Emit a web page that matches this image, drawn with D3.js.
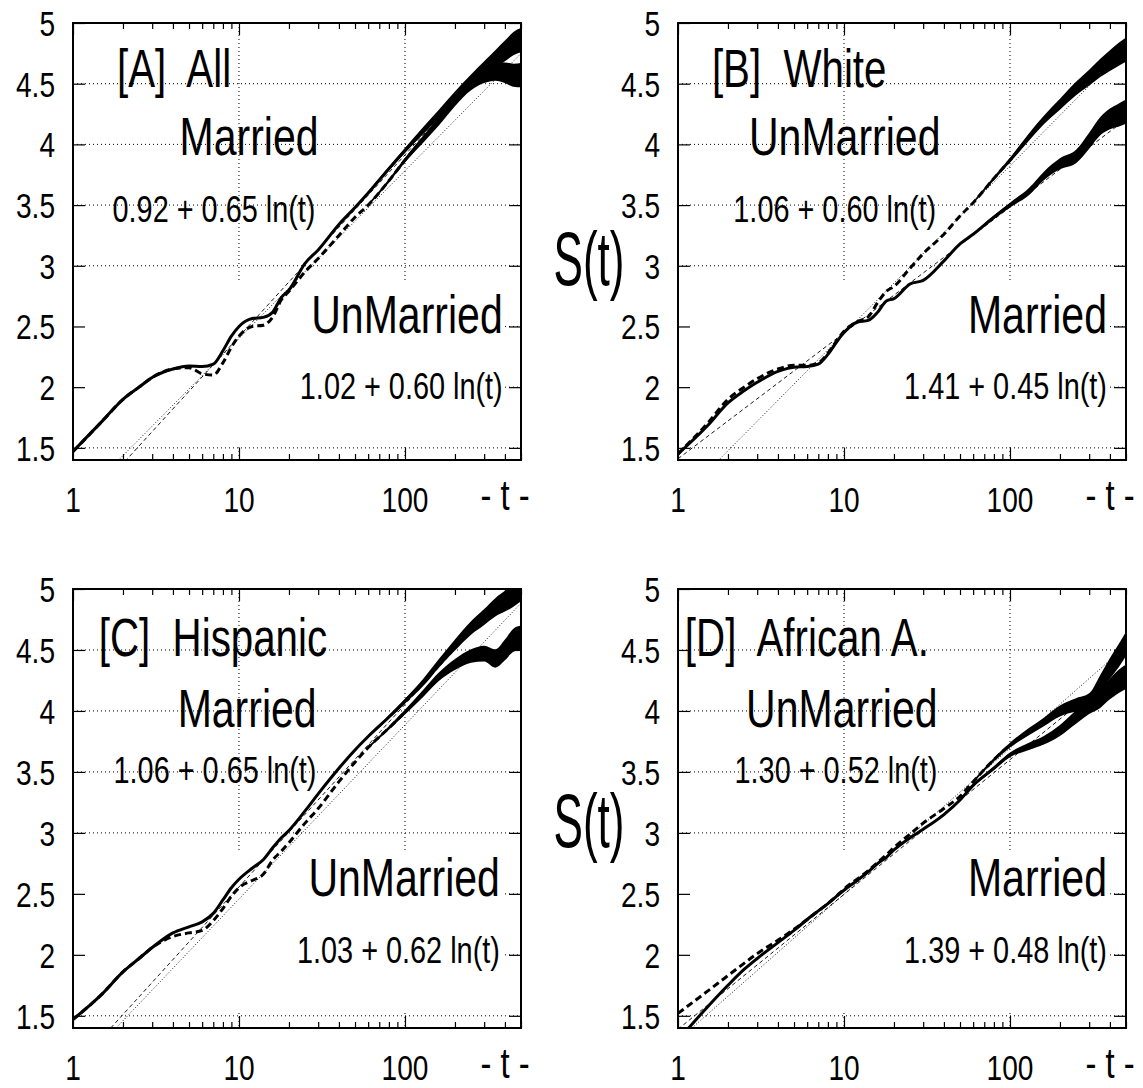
<!DOCTYPE html>
<html>
<head>
<meta charset="utf-8">
<script src="https://cdn.jsdelivr.net/npm/d3@7"></script>
<style>
body{margin:0;background:#fff}
text{font-family:"Liberation Sans",Arial,Helvetica,sans-serif;fill:#000;white-space:pre}
</style>
</head>
<body>
<svg id="chart"></svg>
<script>
// sample times (same grid for every curve)
var T=[1,1.5,2,2.5,3,4,5,6,7,8,9,10,12,14,16,18,20,25,30,40,50,60,80,100,130,160,200,250,300,350,400,450,500]
// half width of the noisy band
var noise=[0,0,0,0,0,0,0,0,0,0,0,0,0,0,0,0,0,0,0,0,0,0.01,0.015,0.02,0.03,0.035,0.045,0.055,0.065,0.075,0.085,0.095,0.1]

var marriedA=[1.47,1.72,1.90,2.00,2.08,2.15,2.175,2.17,2.19,2.30,2.42,2.50,2.565,2.575,2.62,2.74,2.80,3.02,3.13,3.34,3.48,3.60,3.80,3.95,4.12,4.25,4.39,4.52,4.62,4.70,4.77,4.83,4.86]
var unmarriedA=[1.47,1.72,1.90,2.00,2.08,2.15,2.16,2.11,2.10,2.20,2.33,2.42,2.50,2.51,2.58,2.72,2.79,2.95,3.06,3.25,3.40,3.50,3.70,3.87,4.05,4.19,4.36,4.50,4.57,4.60,4.59,4.57,4.57]
var marriedB=[1.45,1.68,1.87,1.97,2.04,2.13,2.165,2.17,2.19,2.27,2.37,2.45,2.535,2.55,2.62,2.71,2.73,2.85,2.88,3.04,3.18,3.26,3.40,3.50,3.61,3.74,3.84,3.90,4.03,4.15,4.21,4.24,4.27]
var unmarriedB=[1.45,1.70,1.90,2.00,2.07,2.15,2.18,2.18,2.20,2.28,2.38,2.46,2.54,2.58,2.70,2.79,2.83,2.98,3.10,3.26,3.41,3.52,3.72,3.87,4.06,4.20,4.33,4.46,4.55,4.63,4.69,4.74,4.78]
var marriedC=[1.47,1.68,1.86,1.97,2.06,2.18,2.23,2.27,2.34,2.45,2.55,2.62,2.71,2.78,2.88,2.96,3.02,3.18,3.32,3.53,3.68,3.79,3.95,4.08,4.24,4.39,4.54,4.68,4.77,4.85,4.90,4.95,5.00]
var unmarriedC=[1.47,1.68,1.86,1.97,2.06,2.15,2.18,2.20,2.28,2.38,2.48,2.55,2.61,2.66,2.78,2.85,2.92,3.08,3.20,3.42,3.58,3.70,3.86,3.99,4.15,4.28,4.38,4.45,4.47,4.43,4.50,4.58,4.60]
var marriedD=[1.30,1.57,1.75,1.88,1.97,2.10,2.20,2.29,2.36,2.42,2.48,2.53,2.61,2.68,2.75,2.80,2.86,2.96,3.03,3.15,3.27,3.39,3.53,3.64,3.71,3.76,3.84,3.95,4.04,4.10,4.18,4.24,4.28]
var unmarriedD=[1.52,1.70,1.83,1.93,2.01,2.12,2.21,2.29,2.36,2.42,2.48,2.54,2.62,2.69,2.76,2.82,2.88,2.99,3.08,3.20,3.30,3.42,3.60,3.72,3.83,3.91,4.00,4.05,4.08,4.22,4.35,4.45,4.55]

// fits S = a + b ln(t)
var fitMarried={A:[0.92,0.65],B:[1.41,0.45],C:[1.06,0.65],D:[1.39,0.48]}
var fitUnmarried={A:[1.02,0.60],B:[1.06,0.60],C:[1.03,0.62],D:[1.30,0.52]}

var xTicks=[1,10,100]
var xMinor=[2,3,4,5,6,7,8,9,20,30,40,50,60,70,80,90,200,300,400,500]
var yTicks=[1.5,2,2.5,3,3.5,4,4.5,5]

var W=1143,H=1088
var svg=d3.select("#chart").attr("width",W).attr("height",H)

var panels=[
  {id:"A",title:"[A]  All",married:marriedA,unmarried:unmarriedA,top:"married",left:73,right:521,y0:23,y1:460,ylab:null,
   pos:{title:[1.84,4.47],name1:[11.5,3.91],eq1:[7.07,3.36],name2:[388,2.45],eq2:[388,1.90]}},
  {id:"B",title:"[B]  White",married:marriedB,unmarried:unmarriedB,top:"unmarried",left:678,right:1126,y0:23,y1:460,ylab:19,
   pos:{title:[1.6,4.47],name1:[10.1,3.91],eq1:[8.8,3.36],name2:[384,2.45],eq2:[384,1.90]}},
  {id:"C",title:"[C]  Hispanic",married:marriedC,unmarried:unmarriedC,top:"married",left:73,right:521,y0:589,y1:1028,ylab:null,
   pos:{title:[1.43,4.45],name1:[11.2,3.87],eq1:[7.17,3.41],name2:[373,2.48],eq2:[373,1.93]}},
  {id:"D",title:"[D]  African A.",married:marriedD,unmarried:unmarriedD,top:"unmarried",left:678,right:1126,y0:589,y1:1028,ylab:14,
   pos:{title:[1.1,4.45],name1:[9.7,3.87],eq1:[8.95,3.41],name2:[384,2.48],eq2:[384,1.93]}}
]

function ctext(g,str,x,y,size,anchor,sx){
  return g.append("text").text(str)
    .attr("transform","translate("+x+","+y+") scale("+(sx||0.78)+",1)")
    .attr("text-anchor",anchor||"start")
    .attr("xml:space","preserve")
    .style("font-size",size+"px")
}
function eqText(f){return f[0].toFixed(2)+" + "+f[1].toFixed(2)+" ln(t)"}

panels.forEach(function(p){
  var x=d3.scaleLog().domain([1,500]).range([p.left,p.right])
  var y=d3.scaleLinear().domain([1.4,5]).range([p.y1,p.y0])
  var g=svg.append("g")

  // grid
  g.selectAll(".gy").data(yTicks.slice(0,-1)).enter().append("line")
    .attr("x1",p.left).attr("x2",p.right).attr("y1",d=>y(d)).attr("y2",d=>y(d))
    .attr("stroke","#000").attr("stroke-width",1).attr("stroke-dasharray","1,3")
  g.selectAll(".gx").data([10,100]).enter().append("line")
    .attr("x1",d=>x(d)).attr("x2",d=>x(d)).attr("y1",p.y0).attr("y2",p.y1)
    .attr("stroke","#000").attr("stroke-width",1).attr("stroke-dasharray","1,3")
  // opaque key box hides the lower grid
  g.append("rect").attr("x",p.left+1).attr("width",p.right-p.left-18)
    .attr("y",y(2.86)).attr("height",y(1.53)-y(2.86)).attr("fill","#fff")

  var clipId="clip"+p.id
  svg.append("clipPath").attr("id",clipId).append("rect")
    .attr("x",p.left).attr("y",p.y0).attr("width",p.right-p.left).attr("height",p.y1-p.y0)
  var pg=g.append("g").attr("clip-path","url(#"+clipId+")")

  // fit lines (straight on a log axis)
  function drawFit(f,dash){
    pg.append("line").attr("x1",x(1)).attr("x2",x(500))
      .attr("y1",y(f[0])).attr("y2",y(f[0]+f[1]*Math.log(500)))
      .attr("stroke","#000").attr("stroke-width",0.9).attr("stroke-dasharray",dash)
  }
  drawFit(fitMarried[p.id],"4,3")
  drawFit(fitUnmarried[p.id],"1,2")

  // data curves
  var line=d3.line().x((d,i)=>x(T[i])).y(d=>y(d)).curve(d3.curveMonotoneX)
  var band=d3.area().defined((d,i)=>noise[i]>0).x((d,i)=>x(T[i]))
    .y0((d,i)=>y(d-noise[i])).y1((d,i)=>y(d+noise[i])).curve(d3.curveMonotoneX)
  ;[[p.unmarried,"7,4"],[p.married,null]].forEach(function(s){
    pg.append("path").attr("d",band(s[0])).attr("fill","#000")
    pg.append("path").attr("d",line(s[0])).attr("fill","none")
      .attr("stroke","#000").attr("stroke-width",3).attr("stroke-dasharray",s[1])
  })

  // axes ticks on all four sides, inward
  function ax(a,tr){g.append("g").attr("transform",tr).call(a).call(s=>s.select(".domain").remove())}
  ax(d3.axisBottom(x).tickValues(xTicks).tickSize(-12).tickFormat(""),"translate(0,"+p.y1+")")
  ax(d3.axisBottom(x).tickValues(xMinor).tickSize(-6).tickFormat(""),"translate(0,"+p.y1+")")
  ax(d3.axisTop(x).tickValues(xTicks).tickSize(-12).tickFormat(""),"translate(0,"+p.y0+")")
  ax(d3.axisTop(x).tickValues(xMinor).tickSize(-6).tickFormat(""),"translate(0,"+p.y0+")")
  ax(d3.axisLeft(y).tickValues(yTicks).tickSize(-12).tickFormat(""),"translate("+p.left+",0)")
  ax(d3.axisRight(y).tickValues(yTicks).tickSize(-12).tickFormat(""),"translate("+p.right+",0)")
  g.selectAll(".tick line").attr("stroke","#000").attr("stroke-width",1.2)

  g.append("rect").attr("x",p.left).attr("y",p.y0).attr("width",p.right-p.left).attr("height",p.y1-p.y0)
    .attr("fill","none").attr("stroke","#000").attr("stroke-width",2)

  // tick labels
  yTicks.forEach(function(v){ctext(g,String(v),p.left-18,y(v)+13,36,"end")})
  xTicks.forEach(function(v){ctext(g,String(v),x(v),p.y1+52,36,"middle")})
  ctext(g,"- t -",p.right-16,p.y1+50,42,"middle")
  if(p.ylab!=null) ctext(g,"S(t)",p.left-89,y(3)+p.ylab,76,"middle",0.58)

  // annotations
  var topFit=p.top=="married"?fitMarried[p.id]:fitUnmarried[p.id]
  var botFit=p.top=="married"?fitUnmarried[p.id]:fitMarried[p.id]
  var n1=p.top=="married"?"Married":"UnMarried"
  var n2=p.top=="married"?"UnMarried":"Married"
  ctext(g,p.title,x(p.pos.title[0]),y(p.pos.title[1]),53,"start",0.76)
  ctext(g,n1,x(p.pos.name1[0]),y(p.pos.name1[1]),54,"middle",0.76)
  ctext(g,eqText(topFit),x(p.pos.eq1[0]),y(p.pos.eq1[1]),37,"middle")
  ctext(g,n2,x(p.pos.name2[0]),y(p.pos.name2[1]),54,"end",0.76)
  ctext(g,eqText(botFit),x(p.pos.eq2[0]),y(p.pos.eq2[1]),37,"end")
})
</script>
</body>
</html>
